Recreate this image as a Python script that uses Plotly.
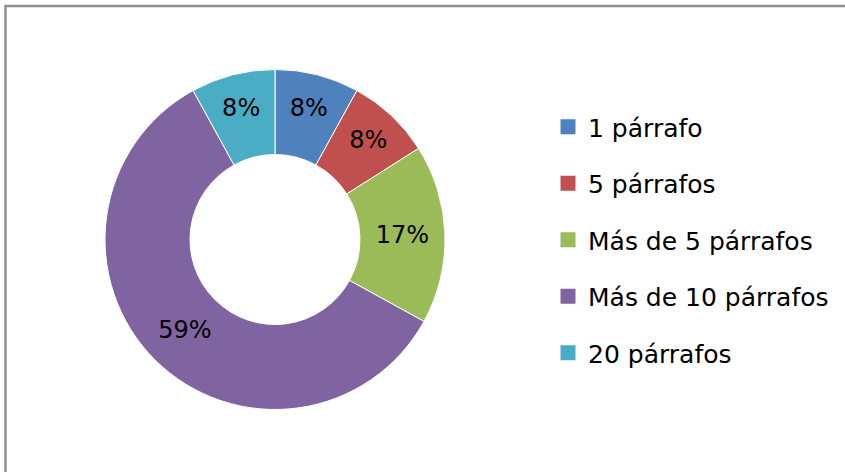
import plotly.graph_objects as go

labels = ["1 párrafo", "5 párrafos", "Más de 5 párrafos", "Más de 10 párrafos", "20 párrafos"]
percents = [8, 8, 17, 59, 8]
colors = ["#4F81BD", "#C0504D", "#9BBB59", "#8064A2", "#4BACC6"]

W, H = 845, 472
FONT = "DejaVu Sans"

fig = go.Figure()

fig.add_trace(go.Pie(
    labels=labels,
    values=percents,
    sort=False,
    direction="clockwise",
    rotation=0,
    hole=0.5,
    marker=dict(colors=colors, line=dict(color="white", width=1)),
    texttemplate="%{value}%",
    textposition="inside",
    insidetextorientation="horizontal",
    textfont=dict(family=FONT, size=24, color="black"),
    showlegend=False,
    domain=dict(x=[105 / W, 445 / W], y=[(H - 410) / H, (H - 69) / H]),
))

# legend entries (library legend, one group per category for spacing)
for lab, col in zip(labels, colors):
    fig.add_trace(go.Scatter(
        x=[None], y=[None], mode="markers", name=lab,
        legendgroup=lab,
        marker=dict(symbol="square", size=15, color=col),
    ))

fig.update_layout(
    width=W, height=H,
    margin=dict(l=0, r=0, t=0, b=0),
    paper_bgcolor="white",
    plot_bgcolor="white",
    xaxis=dict(visible=False),
    yaxis=dict(visible=False),
    uniformtext=dict(minsize=24, mode="show"),
    legend=dict(
        x=548 / W, xanchor="left",
        y=1 - 104 / H, yanchor="top",
        font=dict(family=FONT, size=25, color="black"),
        tracegroupgap=21,
        itemsizing="trace",
        bgcolor="rgba(0,0,0,0)",
    ),
    shapes=[dict(
        type="path", xref="paper", yref="paper",
        path=f"M {5.5 / W},-0.1 L {5.5 / W},{1 - 6 / H} L 1.1,{1 - 6 / H}",
        line=dict(color="#8f8f8f", width=2.5),
    )],
)

fig.write_html(
    "out.html",
    config={"displayModeBar": False},
    post_script="document.body.style.margin='0px';document.body.style.overflow='hidden';",
)
